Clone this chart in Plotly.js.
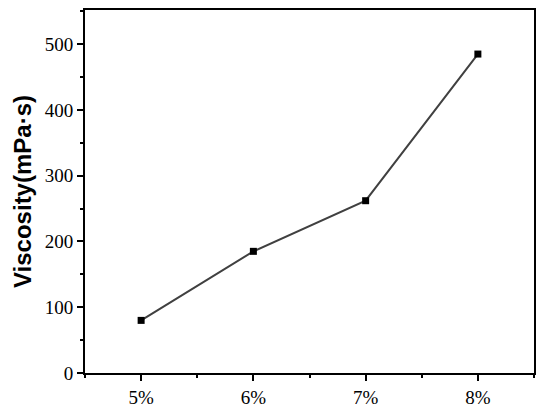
<!DOCTYPE html>
<html>
<head>
<meta charset="utf-8">
<script src="https://cdn.plot.ly/plotly-3.0.1.min.js"></script>
<style>html,body{margin:0;padding:0;background:#fff;}#chart{width:550px;height:413px;}</style>
</head>
<body>
<div id="chart"></div>
<script>
const concentrations = [5, 6, 7, 8];
const concentrationLabels = ['5%', '6%', '7%', '8%'];
const viscosity = [80, 185, 262, 485];
const yTicks = [0, 100, 200, 300, 400, 500];

const trace = {
  x: concentrations,
  y: viscosity,
  type: 'scatter',
  mode: 'lines+markers',
  line: {color: '#404040', width: 2},
  marker: {symbol: 'square', size: 7, color: '#000000'},
  showlegend: false
};

const tickFont = {family: '"Liberation Serif", "DejaVu Serif", serif', size: 19, color: '#000'};

const layout = {
  width: 550, height: 413,
  margin: {l: 85, r: 16, t: 10, b: 40},
  paper_bgcolor: '#fff', plot_bgcolor: '#fff',
  xaxis: {
    range: [4.5, 8.5],
    tickvals: concentrations,
    ticktext: concentrationLabels,
    ticks: 'outside', ticklen: 6, tickwidth: 2, tickcolor: '#000',
    minor: {dtick: 0.5, tick0: 4.5, ticks: 'outside', ticklen: 3, tickwidth: 2, tickcolor: '#000'},
    showline: true, linecolor: '#000', linewidth: 2, mirror: true,
    showgrid: false, zeroline: false,
    tickfont: tickFont
  },
  yaxis: {
    range: [0, 552],
    tickvals: yTicks,
    ticks: 'outside', ticklen: 6, tickwidth: 2, tickcolor: '#000',
    minor: {dtick: 50, tick0: 0, ticks: 'outside', ticklen: 3, tickwidth: 2, tickcolor: '#000'},
    showline: true, linecolor: '#000', linewidth: 2, mirror: true,
    showgrid: false, zeroline: false,
    tickfont: tickFont,
    title: {text: 'Viscosity(mPa·s)', font: {family: '"Liberation Sans", Arial, sans-serif', size: 24, color: '#000', weight: 'bold'}, standoff: 6}
  }
};

Plotly.newPlot('chart', [trace], layout, {staticPlot: true, displayModeBar: false});
</script>
</body>
</html>
